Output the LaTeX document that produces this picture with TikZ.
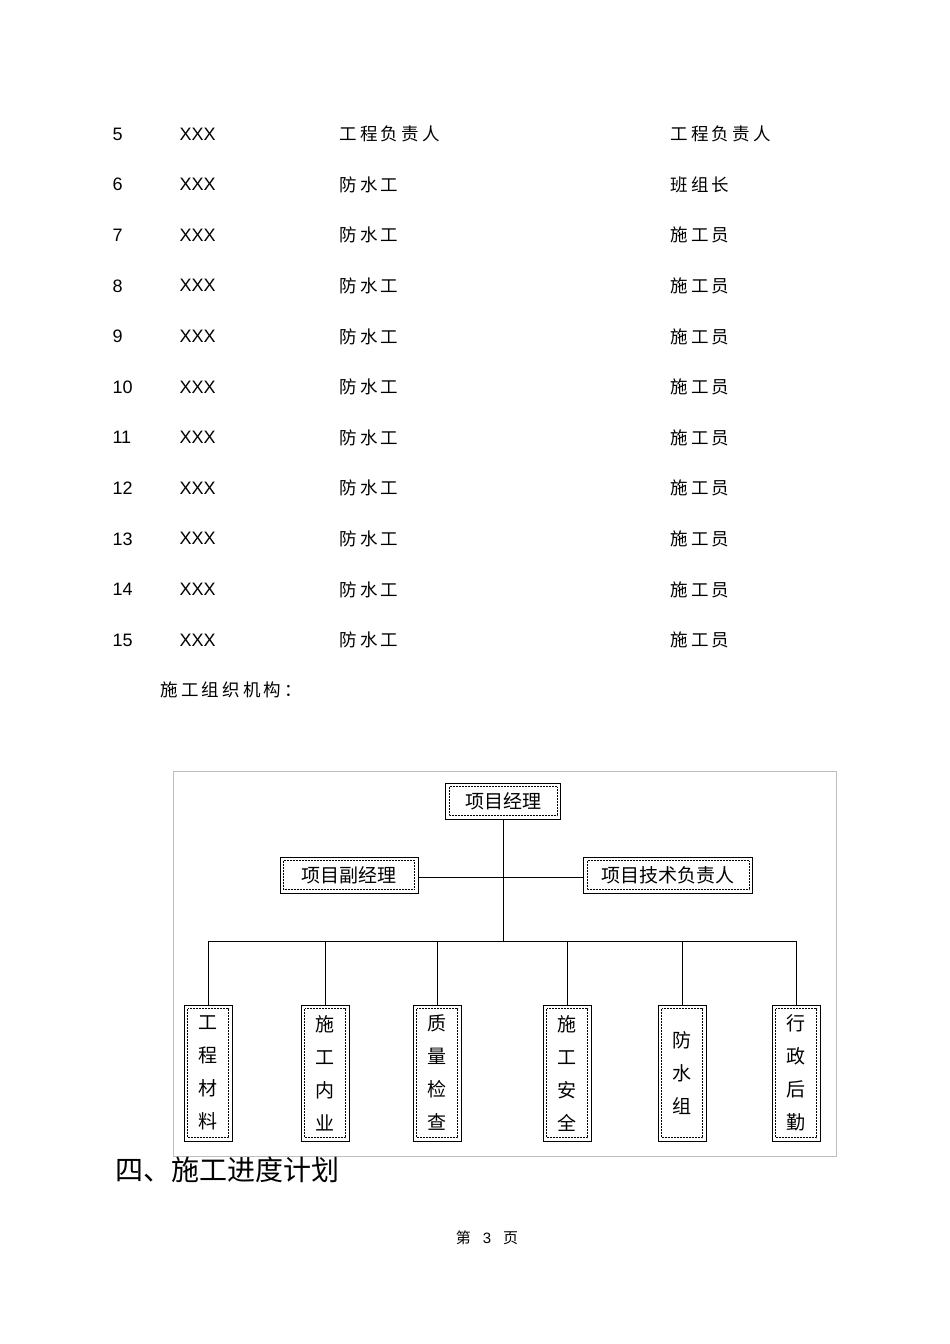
\documentclass[tikz,border=0pt]{standalone}
\usepackage{fontspec}
\setmainfont{Liberation Sans}
\newfontfamily\cjk{Noto Sans CJK SC}
\newfontfamily\cjksp{Noto Sans CJK SC}[LetterSpace=18]
\begin{document}
\begin{tikzpicture}[x=1pt,y=-1pt,
  tbl/.style={anchor=west,font=\fontsize{18}{18}\selectfont},
  ctbl/.style={anchor=west,font=\cjksp\fontsize{17.5}{17.5}\selectfont},
  bx/.style={draw,line width=1pt,minimum width=#1,minimum height=36pt,inner sep=0pt,font=\cjk\fontsize{19}{19}\selectfont,
    append after command={\pgfextra{\draw[densely dotted,line width=0.5pt]([shift={(4pt,-4pt)}]\tikzlastnode.north west) rectangle ([shift={(-4pt,4pt)}]\tikzlastnode.south east);}}},
  vb/.style={draw,line width=1pt,minimum width=48pt,minimum height=136pt,inner sep=0pt,align=center,font=\cjk\fontsize{19}{33}\selectfont,
    append after command={\pgfextra{\draw[densely dotted,line width=0.5pt]([shift={(4pt,-4pt)}]\tikzlastnode.north west) rectangle ([shift={(-4pt,4pt)}]\tikzlastnode.south east);}}},
  ln/.style={line width=0.8pt}]
\useasboundingbox (0,0) rectangle (950,1344);
\fill[white] (0,0) rectangle (950,1344);
\foreach \n/\a/\b [count=\i from 0] in {5/工程负责人/工程负责人,6/防水工/班组长,7/防水工/施工员,8/防水工/施工员,9/防水工/施工员,10/防水工/施工员,11/防水工/施工员,12/防水工/施工员,13/防水工/施工员,14/防水工/施工员,15/防水工/施工员}{
  \node[tbl] (n\i) at (109,134+50.6*\i) {\n};
  \node[tbl] (x\i) at (176,134+50.6*\i) {XXX};
  \node[ctbl] (a\i) at (336,134+50.6*\i) {\a};
  \node[ctbl] (b\i) at (667,134+50.6*\i) {\b};
}
\node[ctbl] (org) at (157,690) {施工组织机构：};
\draw[gray!50,line width=0.8pt] (173,771) rectangle (836,1156);
\node[bx=115pt] (pm) at (503,801) {项目经理};
\node[bx=138pt] (dep) at (349,875) {项目副经理};
\node[bx=169pt] (tech) at (668,875) {项目技术负责人};
\coordinate (j1) at (503,877);
\coordinate (j2) at (503,941);
\draw[ln] (pm.south) -- (j2);
\draw[ln] (dep.east |- j1) -- (tech.west |- j1);
\foreach \x/\t/\nm in {208/工\\程\\材\\料/c1,325/施\\工\\内\\业/c2,437/质\\量\\检\\查/c3,567/施\\工\\安\\全/c4,682/防\\水\\组/c5,796/行\\政\\后\\勤/c6}{
  \node[vb] (\nm) at (\x,1073) {\t};
  \draw[ln] (\nm.north) -- (\x,941);
}
\draw[ln] (c1.north |- j2) -- (c6.north |- j2);
\node[anchor=west,font=\cjk\fontsize{28}{28}\selectfont] (h4) at (112,1170) {四、施工进度计划};
\node[font=\cjk\fontsize{15}{15}\selectfont] (pg) at (487,1238) {第\hspace{12pt}{\rmfamily 3}\hspace{12pt}页};
\end{tikzpicture}
\end{document}
